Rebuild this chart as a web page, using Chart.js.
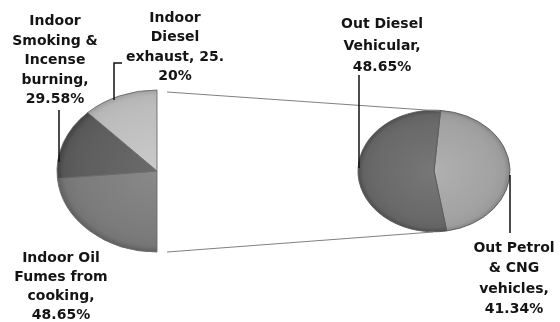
<!DOCTYPE html>
<html>
<head>
<meta charset="utf-8">
<script src="https://cdn.jsdelivr.net/npm/chart.js@4.4.1/dist/chart.umd.min.js"></script>
<style>
  html, body { margin: 0; padding: 0; background: #fff; }
  #wrap { position: relative; width: 560px; height: 322px; }
  #wrap canvas { position: absolute; left: 0; top: 0; }
</style>
</head>
<body>
<div id="wrap">
  <canvas id="indoor" width="560" height="322"></canvas>
  <canvas id="outdoor" width="560" height="322"></canvas>
</div>
<script>
// data
const indoorLabels = ['Indoor Oil Fumes from cooking', 'Indoor Smoking & Incense burning', 'Indoor Diesel exhaust'];
const indoorValues = [48.65, 29.58, 25.20];
const outdoorLabels = ['Out Petrol & CNG vehicles', 'Out Diesel Vehicular'];
const outdoorValues = [41.34, 48.65];

// look
const indoorColors = ['#7b7b7b', '#5d5d5d', '#bcbcbc'];
const outdoorColors = ['#a2a2a2', '#696969'];
const FONT = 'bold 14px "DejaVu Sans", sans-serif';

// geometry of the two pies (centre, radius, vertical squash for the 3d tilt)
const left = { cx: 157, cy: 171, r: 100, tilt: 0.81 };
const right = { cx: 434, cy: 171, r: 76, tilt: 0.8 };

function shade(hex, amt) {
  const n = parseInt(hex.slice(1), 16);
  const f = c => Math.max(0, Math.min(255, Math.round(c + amt)));
  return `rgb(${f(n >> 16)},${f((n >> 8) & 255)},${f(n & 255)})`;
}

function gradientFill(geo, colors) {
  return (c) => {
    const base = colors[c.dataIndex];
    const ctx = c.chart.ctx;
    const g = ctx.createRadialGradient(geo.cx, geo.cy, 0, geo.cx, geo.cy, geo.r);
    g.addColorStop(0, shade(base, 14));
    g.addColorStop(0.8, base);
    g.addColorStop(0.93, shade(base, -6));
    g.addColorStop(1, shade(base, -28));
    return g;
  };
}

// squash the arcs into ellipses around the pie centre
const tiltPlugin = {
  id: 'tilt',
  beforeDatasetsDraw(chart, args, opts) {
    const arc = chart.getDatasetMeta(0).data[0];
    const ctx = chart.ctx;
    ctx.save();
    ctx.translate(arc.x, arc.y);
    ctx.scale(1, opts.ratio);
    ctx.translate(-arc.x, -arc.y);
  },
  afterDatasetsDraw(chart) {
    chart.ctx.restore();
  }
};

// data labels with leader lines, plus the connector lines
const calloutPlugin = {
  id: 'callouts',
  afterDraw(chart, args, opts) {
    const ctx = chart.ctx;
    ctx.save();
    (opts.connectors || []).forEach(pts => {
      ctx.strokeStyle = '#808080';
      ctx.lineWidth = 1.2;
      ctx.beginPath();
      pts.forEach((p, i) => i ? ctx.lineTo(p[0], p[1]) : ctx.moveTo(p[0], p[1]));
      ctx.stroke();
    });
    opts.items.forEach(it => {
      if (it.leader) {
        ctx.strokeStyle = '#111';
        ctx.lineWidth = 1.5;
        ctx.beginPath();
        it.leader.forEach((p, i) => i ? ctx.lineTo(p[0], p[1]) : ctx.moveTo(p[0], p[1]));
        ctx.stroke();
      }
      ctx.font = FONT;
      ctx.fillStyle = '#141414';
      ctx.textAlign = 'center';
      ctx.textBaseline = 'alphabetic';
      const value = chart.data.datasets[0].data[it.index];
      const lines = it.lines.map(s => s.replace('{v}', value.toFixed(2) + '%'));
      lines.forEach((s, i) => ctx.fillText(s, it.x, it.y + i * it.lh));
    });
    ctx.restore();
  }
};

Chart.register(tiltPlugin, calloutPlugin);

new Chart(document.getElementById('indoor'), {
  type: 'pie',
  data: {
    labels: indoorLabels,
    datasets: [{
      data: indoorValues,
      backgroundColor: gradientFill(left, indoorColors),
      borderColor: '#6a6a6a',
      borderWidth: 1,
      radius: left.r
    }]
  },
  options: {
    responsive: false,
    animation: false,
    rotation: 180,
    circumference: 180,
    layout: {
      padding: { left: left.cx - left.r, right: 560 - left.cx, top: left.cy - left.r, bottom: 322 - left.cy - left.r }
    },
    plugins: {
      legend: { display: false },
      tooltip: { enabled: false },
      tilt: { ratio: left.tilt },
      callouts: {
        items: [
          { index: 0, lines: ['Indoor Oil', 'Fumes from', 'cooking,', '{v}'], x: 61, y: 262, lh: 19 },
          { index: 1, lines: ['Indoor', 'Smoking &', 'Incense', 'burning,', '{v}'], x: 55, y: 25, lh: 19.5,
            leader: [[59, 110], [59, 162]] },
          { index: 2, lines: ['Indoor', 'Diesel', 'exhaust, 25.', '20%'], x: 175, y: 22, lh: 19.4,
            leader: [[122, 63], [114, 63], [114, 100]] }
        ]
      }
    }
  }
});

new Chart(document.getElementById('outdoor'), {
  type: 'pie',
  data: {
    labels: outdoorLabels,
    datasets: [{
      data: outdoorValues,
      backgroundColor: gradientFill(right, outdoorColors),
      borderColor: '#5a5a5a',
      borderWidth: 1,
      radius: right.r
    }]
  },
  options: {
    responsive: false,
    animation: false,
    rotation: 5,
    layout: {
      padding: { left: right.cx - right.r, right: 560 - right.cx - right.r, top: right.cy - right.r, bottom: 322 - right.cy - right.r }
    },
    plugins: {
      legend: { display: false },
      tooltip: { enabled: false },
      tilt: { ratio: right.tilt },
      callouts: {
        connectors: [
          [[167, 92], [440, 111]],
          [[167, 252], [433, 232]]
        ],
        items: [
          { index: 0, lines: ['Out Petrol', '& CNG', 'vehicles,', '{v}'], x: 514, y: 252, lh: 20.3,
            leader: [[510, 175], [510, 233]] },
          { index: 1, lines: ['Out Diesel', 'Vehicular,', '{v}'], x: 382, y: 28, lh: 21.5,
            leader: [[359, 75], [359, 168]] }
        ]
      }
    }
  }
});
</script>
</body>
</html>
